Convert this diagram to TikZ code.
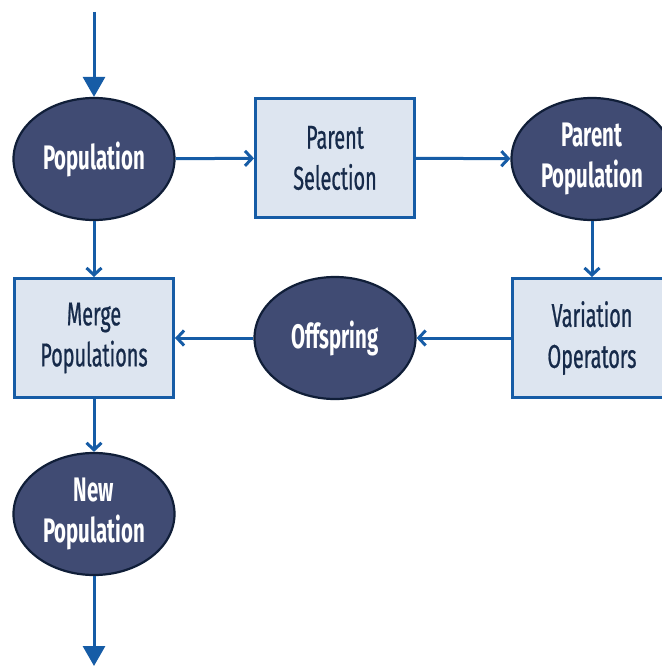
\documentclass[tikz,border=0pt]{standalone}
\usepackage{fontspec}
\newfontfamily\cond[FakeStretch=0.6]{Fira Sans}
\newfontfamily\condmed[FakeStretch=0.6,FakeBold=0.6]{Fira Sans}
\usetikzlibrary{arrows.meta,shapes.geometric}
\definecolor{linec}{RGB}{22,92,166}
\definecolor{ellfill}{RGB}{64,75,115}
\definecolor{elldraw}{RGB}{16,30,56}
\definecolor{boxfill}{RGB}{221,229,240}
\definecolor{boxtext}{RGB}{22,42,74}
\begin{document}
\begin{tikzpicture}[x=1pt,y=-1pt,
 ell/.style={ellipse, draw=elldraw, line width=2.2pt, fill=ellfill, minimum width=161pt, minimum height=122pt, inner sep=0pt, text=white, font=\cond\bfseries\fontsize{34}{41}\selectfont, align=center},
 box/.style={rectangle, draw=linec, line width=3pt, fill=boxfill, minimum width=159pt, minimum height=119pt, inner sep=0pt, text=boxtext, font=\condmed\fontsize{33}{41}\selectfont, align=center},
 conn/.style={draw=linec, line width=3pt, -{Straight Barb[length=7pt,width=15pt,line width=3pt]}},
 big/.style={draw=linec, line width=3pt, -{Triangle[length=20pt,width=22pt]}}]
\useasboundingbox (0,0) rectangle (661,666);
\node[ell] (pop) at (94,159) {Population};
\node[box] (sel) at (335,158) {Parent\\Selection};
\node[ell] (ppop) at (592,159) {Parent\\Population};
\node[box] (merge) at (94,338) {Merge\\Populations};
\node[ell] (off) at (335,338) {Offspring};
\node[box] (var) at (592,338) {Variation\\Operators};
\node[ell] (npop) at (94,514) {New\\Population};
\coordinate (top) at (94,12);
\coordinate (bot) at (94,666);
\draw[big] (top) -- (pop);
\draw[conn] (pop) -- (sel);
\draw[conn] (sel) -- (ppop);
\draw[conn] (ppop) -- (var);
\draw[conn] (var) -- (off);
\draw[conn] (off) -- (merge);
\draw[conn] (pop) -- (merge);
\draw[conn] (merge) -- (npop);
\draw[big] (npop) -- (bot);
\end{tikzpicture}
\end{document}
